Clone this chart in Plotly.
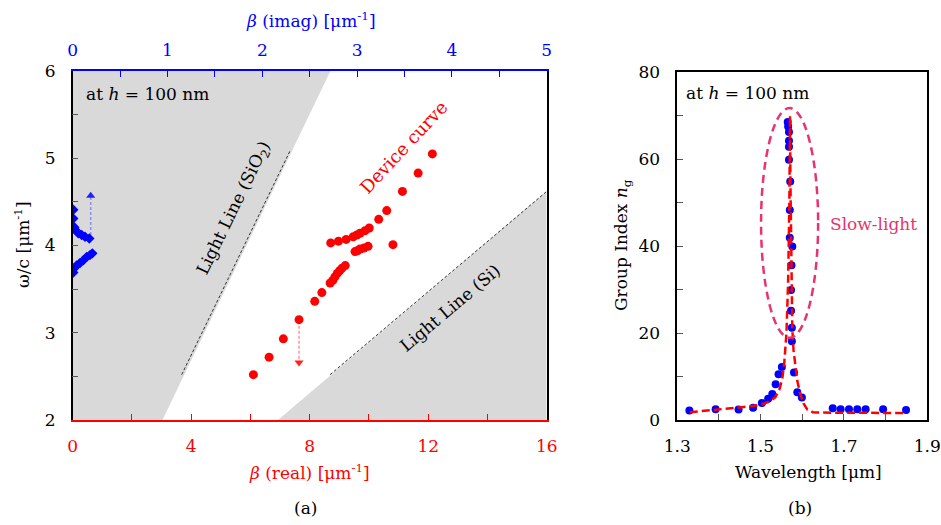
import plotly.graph_objects as go

W, H = 941, 525

# ---------------- Panel (a) data ----------------
red_beta_real = [6.10, 6.63, 7.11, 7.64, 8.17, 8.41, 8.69, 8.78, 8.85, 8.93, 9.01, 9.09, 9.20,
                 9.53, 9.61, 9.70, 9.83, 9.97,
                 8.71, 8.97, 9.23, 9.47, 9.59, 9.70, 9.87, 10.01, 10.33, 10.60, 10.81,
                 11.13, 11.66, 12.14]
red_omega = [2.52, 2.72, 2.93, 3.15, 3.36, 3.46, 3.57, 3.60, 3.64, 3.68, 3.71, 3.74, 3.77,
             3.93, 3.94, 3.96, 3.97, 3.99,
             4.03, 4.05, 4.07, 4.10, 4.12, 4.14, 4.17, 4.20, 4.30, 4.40, 4.01,
             4.62, 4.83, 5.05]

blue_beta_imag = [0.006, 0.006, 0.017, 0.035, 0.059, 0.095, 0.13, 0.175,
                  0.006, 0.014, 0.042, 0.077, 0.112, 0.148, 0.182, 0.207]
blue_omega = [4.41, 4.31, 4.21, 4.17, 4.14, 4.12, 4.10, 4.08,
              3.69, 3.74, 3.77, 3.80, 3.83, 3.87, 3.89, 3.91]

red_arrow_beta = [7.64, 7.64]
red_arrow_omega = [3.08, 2.66]
blue_arrow_beta_imag = [0.19, 0.19]
blue_arrow_omega = [4.12, 4.57]

# light-line regions
sio2_fill_beta = [0, 0, 8.70, 3.03]
sio2_fill_omega = [2, 6, 6, 2]
sio2_line_beta = [3.68, 7.33]
sio2_line_omega = [2.52, 5.08]
si_fill_beta = [6.93, 16, 16]
si_fill_omega = [2, 2, 4.62]
si_line_beta = [8.69, 16]
si_line_omega = [2.52, 4.62]

# ---------------- Panel (b) data ----------------
wl_meas = [1.329, 1.392, 1.447, 1.482, 1.503, 1.518, 1.528, 1.536, 1.543, 1.551,
           1.575, 1.575, 1.573, 1.573, 1.574, 1.576, 1.570, 1.570, 1.571, 1.568,
           1.568, 1.568, 1.568, 1.566, 1.565,
           1.580, 1.588, 1.599, 1.673, 1.692, 1.712, 1.732, 1.752, 1.794, 1.849]
ng_meas = [2.2, 2.5, 2.4, 2.8, 3.9, 4.9, 6.0, 8.2, 10.5, 12.2,
           18.1, 21.2, 25.1, 29.9, 35.6, 39.9, 41.9, 48.3, 54.8, 59.8,
           62.8, 64.2, 66.2, 67.5, 68.5,
           10.9, 6.4, 5.2, 2.7, 2.5, 2.5, 2.5, 2.5, 2.5, 2.3]

wl_fit = [1.33, 1.40, 1.45, 1.50, 1.52, 1.535, 1.545, 1.552, 1.557, 1.562, 1.566, 1.569,
          1.5705, 1.5715, 1.573, 1.5745, 1.576, 1.579, 1.583, 1.588, 1.595, 1.603, 1.612,
          1.625, 1.65, 1.75, 1.85]
ng_fit = [1.8, 2.4, 2.9, 3.5, 4.2, 5.2, 7.0, 9.5, 13.5, 20, 32, 50,
          70, 55, 40, 28, 21, 16, 12.5, 9.0, 6.0, 3.8, 2.4,
          1.8, 1.7, 1.7, 1.6]

slow_light_wl = [1.501, 1.638]
slow_light_ng = [18.9, 71.7]

# ---------------- styling ----------------
FONT = "DejaVu Serif"
RED = "#ff0000"
BLUE = "#0000ff"
GRAY = "#d9d9d9"
PINK = "#e8336e"

def px(x):
    return x / W

def py(y):
    return 1 - y / H

fig = go.Figure()

# gray regions
fig.add_trace(go.Scatter(x=sio2_fill_beta, y=sio2_fill_omega, fill="toself", mode="lines",
                         line=dict(width=0), fillcolor=GRAY, xaxis="x", yaxis="y",
                         hoverinfo="skip", showlegend=False))
fig.add_trace(go.Scatter(x=si_fill_beta, y=si_fill_omega, fill="toself", mode="lines",
                         line=dict(width=0), fillcolor=GRAY, xaxis="x", yaxis="y",
                         hoverinfo="skip", showlegend=False))
# light lines
for bx, by in [(sio2_line_beta, sio2_line_omega), (si_line_beta, si_line_omega)]:
    fig.add_trace(go.Scatter(x=bx, y=by, mode="lines",
                             line=dict(color="#333333", width=1, dash="3px,2px"),
                             xaxis="x", yaxis="y", hoverinfo="skip", showlegend=False))

# red arrow
fig.add_trace(go.Scatter(x=red_arrow_beta, y=red_arrow_omega, mode="lines",
                         line=dict(color="rgba(255,60,60,0.55)", width=1.5, dash="3px,2px"),
                         xaxis="x", yaxis="y", showlegend=False, hoverinfo="skip"))
fig.add_trace(go.Scatter(x=red_arrow_beta[-1:], y=red_arrow_omega[-1:], mode="markers",
                         marker=dict(symbol="triangle-down", size=8, color="rgba(255,0,0,0.85)"),
                         xaxis="x", yaxis="y", showlegend=False, hoverinfo="skip"))
# red device points
fig.add_trace(go.Scatter(x=red_beta_real, y=red_omega, mode="markers",
                         marker=dict(color=RED, size=9), xaxis="x", yaxis="y",
                         showlegend=False))

# blue arrow
fig.add_trace(go.Scatter(x=blue_arrow_beta_imag, y=blue_arrow_omega, mode="lines",
                         line=dict(color="rgba(80,80,255,0.55)", width=1.5, dash="3px,2px"),
                         xaxis="x2", yaxis="y", showlegend=False, hoverinfo="skip"))
fig.add_trace(go.Scatter(x=blue_arrow_beta_imag[-1:], y=blue_arrow_omega[-1:], mode="markers",
                         marker=dict(symbol="triangle-up", size=8, color="rgba(0,0,255,0.85)"),
                         xaxis="x2", yaxis="y", showlegend=False, hoverinfo="skip"))
# blue points
fig.add_trace(go.Scatter(x=blue_beta_imag, y=blue_omega, mode="markers",
                         marker=dict(color=BLUE, size=8, symbol="diamond"),
                         xaxis="x2", yaxis="y", showlegend=False))

# panel (b)
fig.add_trace(go.Scatter(x=wl_meas, y=ng_meas, mode="markers",
                         marker=dict(color=BLUE, size=8), xaxis="x3", yaxis="y3",
                         showlegend=False))
fig.add_trace(go.Scatter(x=wl_fit, y=ng_fit, mode="lines",
                         line=dict(color=RED, width=2.5, dash="8px,4px"),
                         xaxis="x3", yaxis="y3", showlegend=False))

fig.add_shape(type="circle", xref="x3", yref="y3",
              x0=slow_light_wl[0], x1=slow_light_wl[1],
              y0=slow_light_ng[0], y1=slow_light_ng[1],
              line=dict(color=PINK, width=2.5, dash="8px,5px"))

tickfont = dict(family=FONT, size=17)

axis_common = dict(showgrid=False, zeroline=False, ticks="inside", ticklen=6,
                   tickwidth=1, linewidth=1.5, showline=True, automargin=False)

fig.update_layout(
    width=W, height=H, autosize=False,
    margin=dict(l=0, r=0, t=0, b=0, autoexpand=False),
    paper_bgcolor="white", plot_bgcolor="white",
    font=dict(family=FONT, size=17, color="black"),
    xaxis=dict(**axis_common, domain=[px(72.7), px(546.7)], range=[0, 16],
               anchor="y", side="bottom", tick0=0, dtick=4,
               minor=dict(dtick=2, ticks="inside", ticklen=6, tickcolor=RED),
               linecolor=RED, tickcolor=RED, tickfont=dict(family=FONT, size=17, color=RED),
               ticklabelstandoff=10),
    xaxis2=dict(**axis_common, overlaying="x", range=[0, 5], anchor="y", side="top",
                tick0=0, dtick=1,
                minor=dict(dtick=0.5, ticks="inside", ticklen=6, tickcolor=BLUE),
                linecolor=BLUE, tickcolor=BLUE, tickfont=dict(family=FONT, size=17, color=BLUE),
                ticklabelstandoff=6),
    yaxis=dict(**axis_common, domain=[py(420), py(71)], range=[2, 6], anchor="x",
               tick0=2, dtick=1, mirror=True,
               minor=dict(dtick=0.5, ticks="inside", ticklen=6, tickcolor="#555"),
               linecolor="black", tickcolor="#555", tickfont=tickfont,
               ticklabelstandoff=12),
    xaxis3=dict(**axis_common, domain=[px(677.3), px(927.3)], range=[1.3, 1.9],
                anchor="y3", tick0=1.3, dtick=0.2, mirror=True,
                minor=dict(dtick=0.1, ticks="inside", ticklen=6, tickcolor="#555"),
                linecolor="black", tickcolor="#555", tickfont=tickfont,
                tickformat=".1f", ticklabelstandoff=10),
    yaxis3=dict(**axis_common, domain=[py(420), py(72)], range=[0, 80], anchor="x3",
                tick0=0, dtick=20, mirror=True,
                minor=dict(dtick=10, ticks="inside", ticklen=6, tickcolor="#555"),
                linecolor="black", tickcolor="#555", tickfont=tickfont,
                ticklabelstandoff=12),
)

def ann(text, x, y, color="black", size=17, angle=0, xanchor="center", yanchor="middle"):
    fig.add_annotation(text=text, x=px(x), y=py(y), xref="paper", yref="paper",
                       showarrow=False, textangle=angle, xanchor=xanchor, yanchor=yanchor,
                       font=dict(family=FONT, size=size, color=color))

ann("at <i>h</i> = 100 nm", 84, 94, xanchor="left")
ann("at <i>h</i> = 100 nm", 684, 93, xanchor="left")
ann("Light Line (SiO<sub>2</sub>)", 234, 208, angle=-64, size=17)
ann("Light Line (Si)", 450, 308, angle=-40, size=17)
ann("Device curve", 403, 147, color=RED, angle=-47, size=18)
ann("Slow-light", 873, 224, color=PINK, size=17)
ann("<i>β</i> (imag) [μm<sup>-1</sup>]", 311, 20, color=BLUE)
ann("<i>β</i> (real) [μm<sup>-1</sup>]", 309, 472, color=RED)
ann("ω/c [μm<sup>-1</sup>]", 22, 245, angle=-90)
ann("Group Index <i>n</i><sub>g</sub>", 622, 245, angle=-90)
ann("Wavelength [μm]", 808, 472)
ann("(a)", 305, 508)
ann("(b)", 800, 508)

fig.write_html("out.html",
               config={"displayModeBar": False},
               post_script="document.body.style.margin='0';document.body.style.overflow='hidden';")
